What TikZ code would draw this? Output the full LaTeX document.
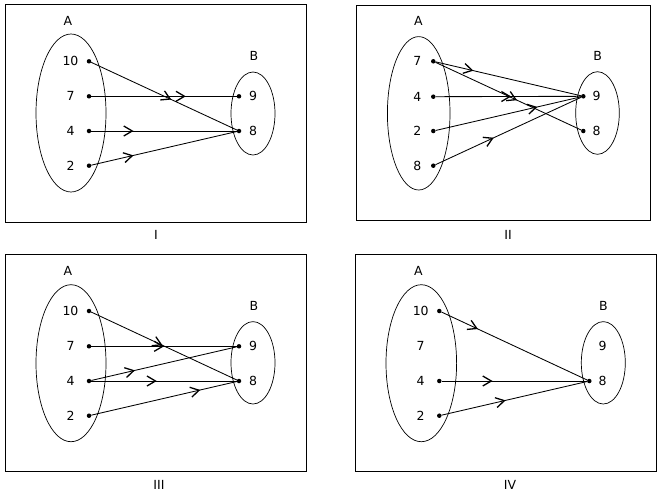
\documentclass[tikz,border=0pt]{standalone}
\usepackage{fontspec}
\setmainfont{DejaVu Sans}
\usetikzlibrary{arrows.meta,decorations.markings}
\tikzset{
  dot/.style={circle,fill=black,inner sep=0pt,minimum size=4.5pt},
  lbl/.style={inner sep=0pt,font=\fontsize{12.5}{15}\selectfont},
  frame/.style={draw=black,line width=0.9pt},
  ring/.style={draw=black,line width=0.7pt},
  conn/.style={draw=black,line width=0.85pt},
  midarrow/.style={conn,postaction={decorate},decoration={markings,
     mark=at position #1 with {\arrow[line width=1.3pt]{Straight Barb[length=8.5pt,width=10pt]}}}}
}
\begin{document}
\begin{tikzpicture}[x=1pt,y=-1pt]
\useasboundingbox (0,0) rectangle (661,499);
\fill[white] (0,0) rectangle (661,499);
% ---------------- Panel I
\draw[frame] (5.3,4.3) rectangle (306.7,222.3);
\node[lbl] (capI) at (156,235) {I};
\draw[ring] (71,113) ellipse [x radius=35pt, y radius=79pt];
\draw[ring] (253,113.5) ellipse [x radius=22pt, y radius=41.5pt];
\node[lbl] (IA) at (68,21) {A};
\node[lbl] (IB) at (254,56) {B};
\node[dot] (Ia10) at (89,61.3) {};
\node[dot] (Ia7) at (89,96.3) {};
\node[dot] (Ia4) at (89,131) {};
\node[dot] (Ia2) at (89,165.7) {};
\node[lbl] (Il10) at (70.5,61.3) {10};
\node[lbl] (Il7) at (70.5,96.3) {7};
\node[lbl] (Il4) at (70.5,131) {4};
\node[lbl] (Il2) at (70.5,165.7) {2};
\node[dot] (Ib9) at (239,96.3) {};
\node[dot] (Ib8) at (239,131) {};
\node[lbl] (Im9) at (253,96.3) {9};
\node[lbl] (Im8) at (253,131) {8};
\path[midarrow=0.55] (Ia10) -- (Ib8);
\path[midarrow=0.65] (Ia7) -- (Ib9);
\path[midarrow=0.29] (Ia4) -- (Ib8);
\path[midarrow=0.29] (Ia2) -- (Ib8);
% ---------------- Panel II
\draw[frame] (356.7,5.7) rectangle (650.7,220);
\node[lbl] (capII) at (508,235) {II};
\draw[ring] (418.7,113.3) ellipse [x radius=31.3pt, y radius=76.7pt];
\draw[ring] (597.5,113) ellipse [x radius=21.8pt, y radius=41.3pt];
\node[lbl] (IIA) at (418.3,21) {A};
\node[lbl] (IIB) at (597.7,56) {B};
\node[dot] (IIa7) at (433.3,61.3) {};
\node[dot] (IIa4) at (433.3,96.7) {};
\node[dot] (IIa2) at (433.3,131) {};
\node[dot] (IIa8) at (433.3,165.7) {};
\node[lbl] (IIl7) at (417.3,61.3) {7};
\node[lbl] (IIl4) at (417.3,96.7) {4};
\node[lbl] (IIl2) at (417.3,131) {2};
\node[lbl] (IIl8) at (417.3,165.7) {8};
\node[dot] (IIb9) at (583.3,96.3) {};
\node[dot] (IIb8) at (583.3,131) {};
\node[lbl] (IIm9) at (596.7,96.3) {9};
\node[lbl] (IIm8) at (596.7,131) {8};
\path[midarrow=0.26] (IIa7) -- (IIb9);
\path[midarrow=0.56] (IIa7) -- (IIb8);
\path[midarrow=0.52] (IIa4) -- (IIb9);
\path[midarrow=0.70] (IIa2) -- (IIb9);
\path[midarrow=0.40] (IIa8) -- (IIb9);
% ---------------- Panel III
\draw[frame] (5.3,254) rectangle (306.7,471.7);
\node[lbl] (capIII) at (159,485) {III};
\draw[ring] (71,363.2) ellipse [x radius=35pt, y radius=78.5pt];
\draw[ring] (253,362.8) ellipse [x radius=22pt, y radius=41.2pt];
\node[lbl] (IIIA) at (68,270.7) {A};
\node[lbl] (IIIB) at (254,305.7) {B};
\node[dot] (IIIa10) at (89,311) {};
\node[dot] (IIIa7) at (89,346.3) {};
\node[dot] (IIIa4) at (89,381) {};
\node[dot] (IIIa2) at (89,415.7) {};
\node[lbl] (IIIl10) at (70.5,311) {10};
\node[lbl] (IIIl7) at (70.5,346.3) {7};
\node[lbl] (IIIl4) at (70.5,381) {4};
\node[lbl] (IIIl2) at (70.5,415.7) {2};
\node[dot] (IIIb9) at (239,346.3) {};
\node[dot] (IIIb8) at (239,381) {};
\node[lbl] (IIIm9) at (253,346.3) {9};
\node[lbl] (IIIm8) at (253,381) {8};
\path[midarrow=0.49] (IIIa10) -- (IIIb8);
\path[midarrow=0.50] (IIIa7) -- (IIIb9);
\path[midarrow=0.30] (IIIa4) -- (IIIb9);
\path[midarrow=0.45] (IIIa4) -- (IIIb8);
\path[midarrow=0.75] (IIIa2) -- (IIIb8);
% ---------------- Panel IV
\draw[frame] (355.3,254) rectangle (656,471.7);
\node[lbl] (capIV) at (510,485) {IV};
\draw[ring] (421.3,363.2) ellipse [x radius=35.3pt, y radius=78.5pt];
\draw[ring] (603.3,362.8) ellipse [x radius=22pt, y radius=41.2pt];
\node[lbl] (IVA) at (418.3,270.7) {A};
\node[lbl] (IVB) at (603.3,305.7) {B};
\node[dot] (IVa10) at (439.3,311) {};
\node[dot] (IVa4) at (439.3,381) {};
\node[dot] (IVa2) at (439.3,415.7) {};
\node[lbl] (IVl10) at (420.7,311) {10};
\node[lbl] (IVl7) at (420.7,346.3) {7};
\node[lbl] (IVl4) at (420.7,381) {4};
\node[lbl] (IVl2) at (420.7,415.7) {2};
\node[dot] (IVb8) at (589.3,381) {};
\node[lbl] (IVm9) at (602.7,346.3) {9};
\node[lbl] (IVm8) at (602.7,381) {8};
\path[midarrow=0.25] (IVa10) -- (IVb8);
\path[midarrow=0.35] (IVa4) -- (IVb8);
\path[midarrow=0.44] (IVa2) -- (IVb8);
\end{tikzpicture}
\end{document}
